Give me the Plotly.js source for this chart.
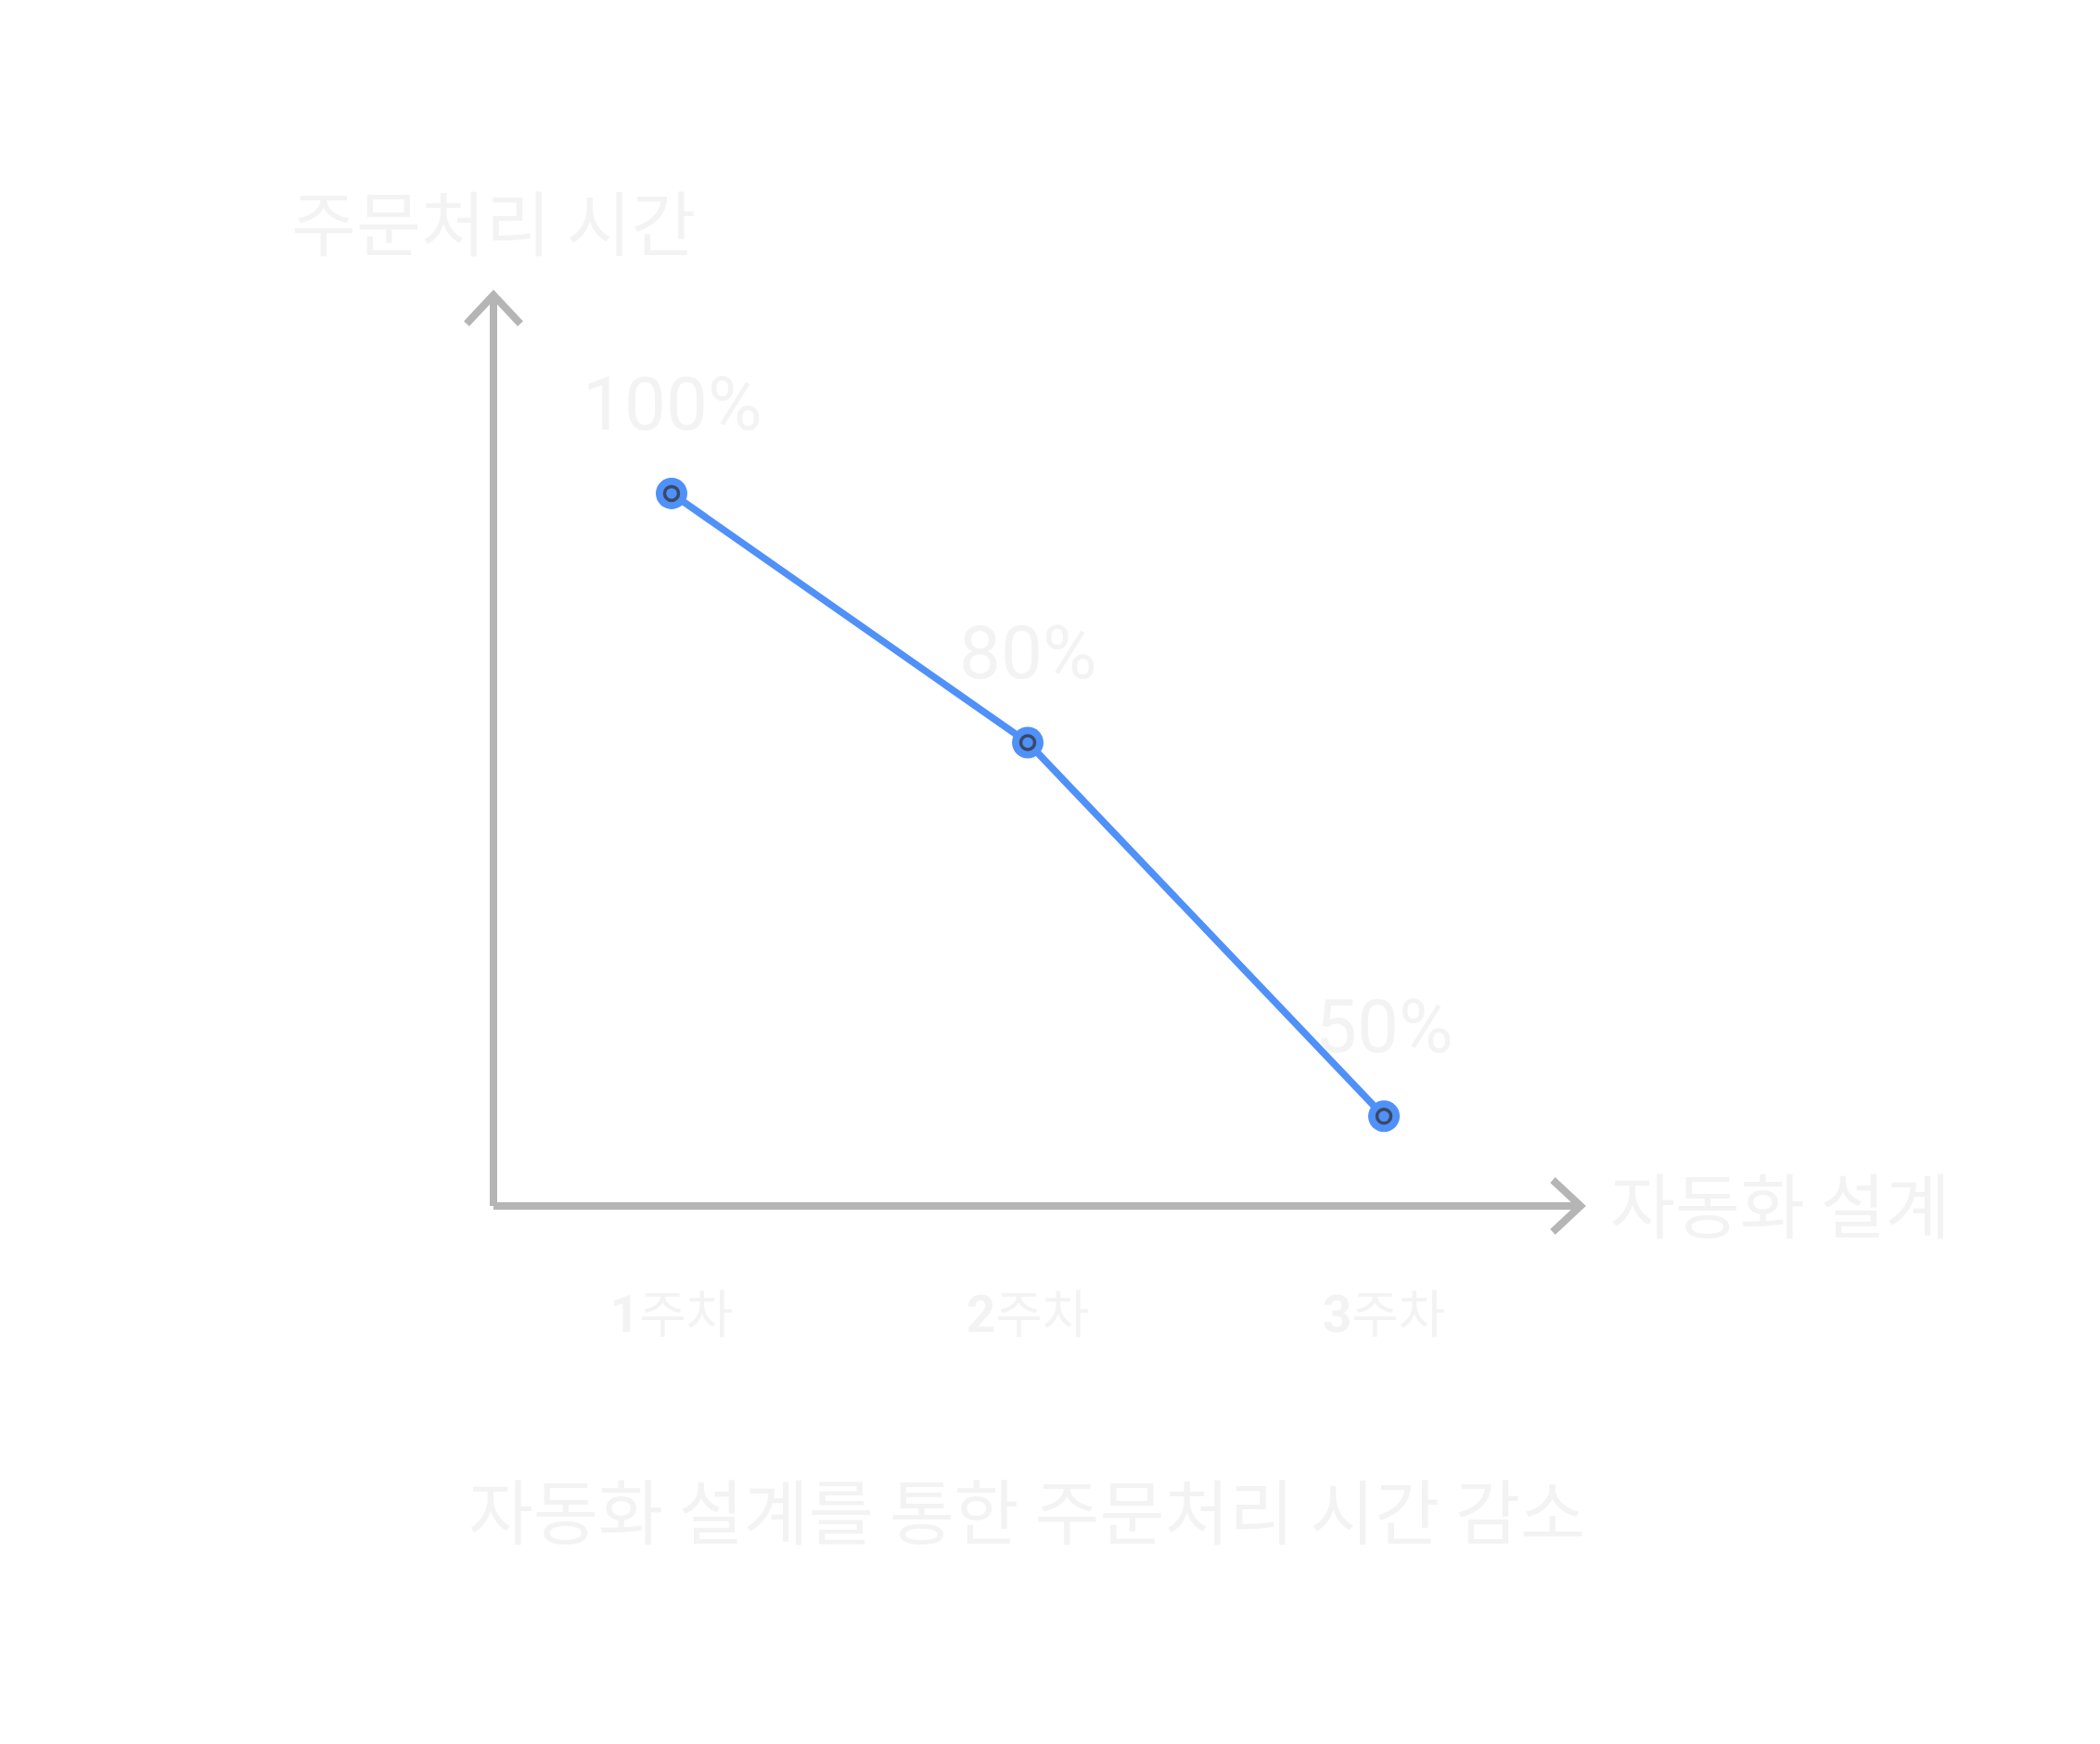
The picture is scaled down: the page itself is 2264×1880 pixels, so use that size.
<!DOCTYPE html>
<html>
<head>
<meta charset="utf-8">
<script src="https://cdn.plot.ly/plotly-3.0.1.min.js"></script>
<style>
  html, body { margin: 0; padding: 0; background: #ffffff; }
  #chart { width: 2264px; height: 1880px; }
</style>
</head>
<body>
<div id="chart"></div>
<script>
// ---- data ----
const weeks = ['1주차', '2주차', '3주차'];
const processTime = [100, 80, 50];
const valueLabels = ['100%', '80%', '50%'];
const yTitle = '주문처리 시간';
const xTitle = '자동화 설계';
const chartTitle = '자동화 설계를 통한 주문처리 시간 감소';

// ---- styles ----
const W = 2264, H = 1880;
const M = { l: 532, r: 560, t: 318, b: 580 };
const plotW = W - M.l - M.r, plotH = H - M.t - M.b;
const txtColor = '#f3f3f3';
const axisColor = '#b5b5b5';
const blue = '#4f91f8';
const cjk = '"Noto Sans CJK KR", "Noto Sans", sans-serif';
const latin = 'Roboto, "Noto Sans CJK KR", sans-serif';

// tick labels: bold leading digit, regular Hangul
const tickText = weeks.map(w => '<b>' + w.charAt(0) + '</b>' + w.slice(1));

// arrow chevron sizes in pixels converted to paper units
const wx = 29 / plotW, wy = 31 / plotH;
const hx = 30 / plotW, hy = 28 / plotH;

const traces = [
  {
    x: weeks, y: processTime, type: 'scatter', mode: 'lines+markers',
    line: { color: blue, width: 7.5 },
    marker: { color: blue, size: 34 },
    hoverinfo: 'skip', showlegend: false
  },
  {
    x: weeks, y: processTime, type: 'scatter', mode: 'markers',
    marker: { symbol: 'circle-open', color: '#3b4866', size: 15, line: { width: 3.5, color: '#3b4866' } },
    hoverinfo: 'skip', showlegend: false
  }
];

const annotations = weeks.map((w, i) => ({
  x: w, y: processTime[i], xref: 'x', yref: 'y',
  text: valueLabels[i], showarrow: false,
  xanchor: 'center', yanchor: 'middle', yshift: 96,
  font: { family: latin, size: 80, color: txtColor }
}));
annotations.push({
  x: 0, y: (1300 - 237.5) / plotH, xref: 'paper', yref: 'paper',
  text: yTitle, showarrow: false, xanchor: 'center', yanchor: 'middle',
  font: { family: cjk, size: 76, color: txtColor }
});
annotations.push({
  x: 1.0255, y: 0.0036, xref: 'paper', yref: 'paper',
  text: xTitle, showarrow: false, xanchor: 'left', yanchor: 'middle',
  font: { family: cjk, size: 76, color: txtColor }
});

const lineStyle = { color: axisColor, width: 8 };
const shapes = [
  { type: 'line', xref: 'paper', yref: 'paper', x0: 0, y0: 0, x1: 0, y1: 1, line: lineStyle },
  { type: 'line', xref: 'paper', yref: 'paper', x0: 0, y0: 0, x1: 1, y1: 0, line: lineStyle },
  { type: 'path', xref: 'paper', yref: 'paper',
    path: `M ${-wx},${1 - wy} L 0,1 L ${wx},${1 - wy}`, line: lineStyle },
  { type: 'path', xref: 'paper', yref: 'paper',
    path: `M ${1 - hx},${hy} L 1,0 L ${1 - hx},${-hy}`, line: lineStyle }
];

const layout = {
  width: W, height: H,
  margin: M,
  paper_bgcolor: '#ffffff', plot_bgcolor: '#ffffff',
  showlegend: false,
  title: {
    text: chartTitle, xref: 'container', yref: 'container',
    x: 1107 / W, xanchor: 'center', y: 1 - 1632 / H, yanchor: 'middle',
    font: { family: cjk, size: 76, color: txtColor }
  },
  xaxis: {
    type: 'category', range: [-0.5, 2.552],
    tickvals: weeks, ticktext: tickText,
    showgrid: false, zeroline: false, showline: false, ticks: '',
    tickfont: { family: latin, size: 55, color: txtColor },
    ticklabelstandoff: 80, fixedrange: true
  },
  yaxis: {
    range: [42.8, 115.93],
    showgrid: false, zeroline: false, showline: false, ticks: '',
    showticklabels: false, fixedrange: true
  },
  annotations: annotations,
  shapes: shapes
};

Plotly.newPlot('chart', traces, layout, { staticPlot: true, displayModeBar: false });
</script>
</body>
</html>
